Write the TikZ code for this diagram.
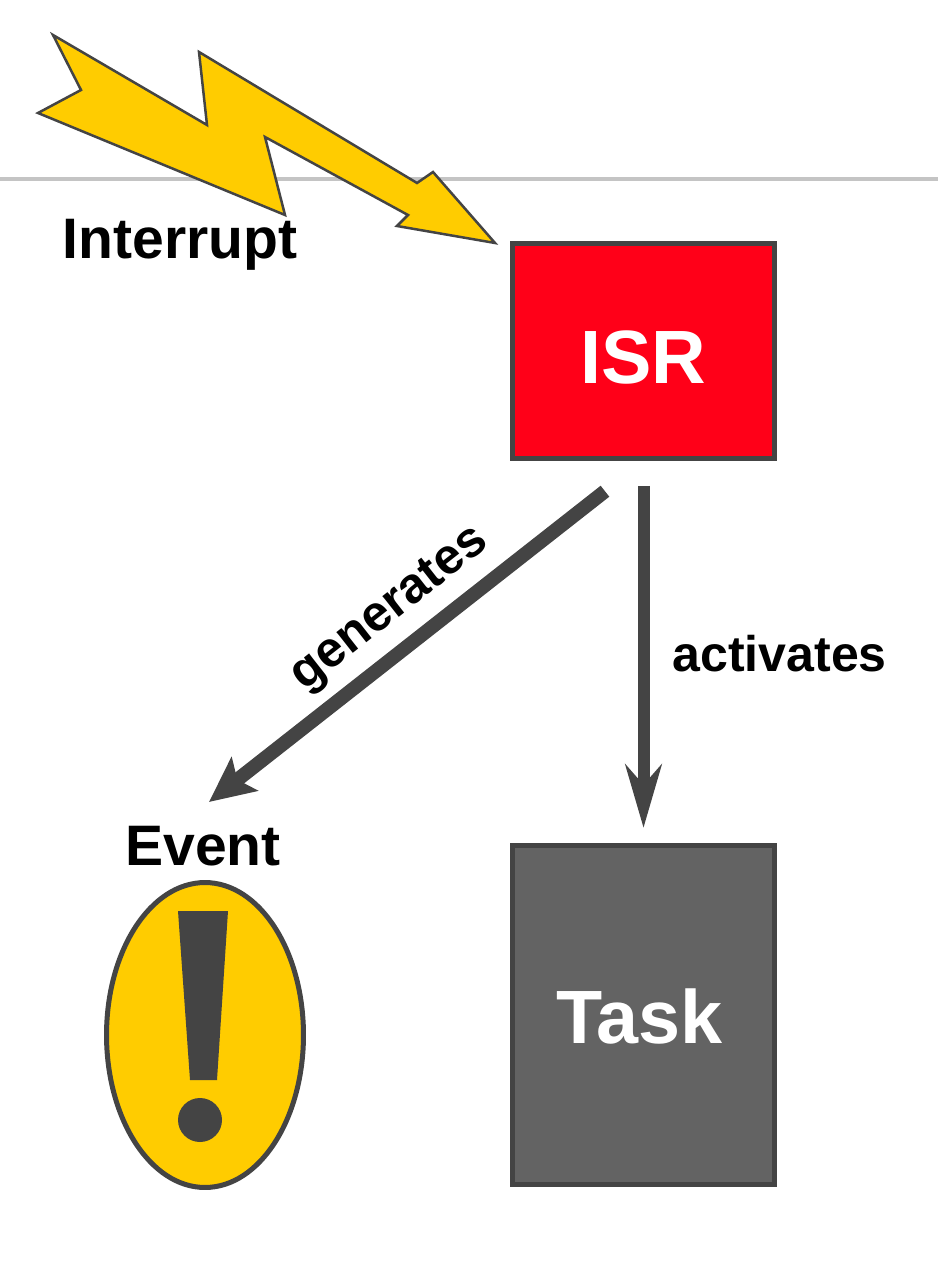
\documentclass[tikz,border=0pt]{standalone}
\usepackage{fontspec}
\setmainfont{Liberation Sans}
\usepackage{xcolor}
\usetikzlibrary{shapes.geometric, arrows.meta, positioning}
\definecolor{boltyellow}{HTML}{FFCC00}
\definecolor{isrred}{HTML}{FF0018}
\definecolor{taskgray}{HTML}{636363}
\definecolor{edgegray}{HTML}{444444}
\definecolor{rulegray}{HTML}{C4C4C4}

\begin{document}
\begin{tikzpicture}[
    x=0.02cm, y=-0.02cm,
    box/.style={rectangle, draw=edgegray, line width=0.1cm, minimum width=5.24cm, text=white, text depth=0pt, font=\bfseries\fontsize{43}{43}\selectfont},
    label/.style={font=\bfseries\fontsize{32.5}{32.5}\selectfont, text=black, inner sep=0pt},
    tag/.style={font=\bfseries\fontsize{28.5}{28.5}\selectfont, text=black, inner sep=0pt},
    line/.style={draw=edgegray, line width=0.24cm}
]
\useasboundingbox (0,0) rectangle (938,1280);

% Horizontal rule
\coordinate (ruleleft) at (0,179);
\coordinate (ruleright) at (938,179);
\draw[rulegray, line width=0.08cm] (ruleleft) -- (ruleright);

% Lightning bolt
\draw[fill=boltyellow, draw=edgegray, line width=0.05cm, line join=miter]
    (53,35) -- (81,90) -- (38,113) -- (285,215) -- (265,137) -- (408,215)
    -- (397,226) -- (495,243) -- (433,172) -- (417,183) -- (199,52) -- (207,125) -- cycle;

% Nodes
\node[label] (interrupt) at (180,245) {Interrupt};
\node[box, fill=isrred, minimum height=4.3cm, text height=1.32cm] (isr) at (643.5,351) {ISR};
\node[box, fill=taskgray, minimum height=6.78cm, text height=1.16cm, below=7.64cm of isr] (task) {Task\rule{0.16cm}{0pt}};
\node[ellipse, draw=edgegray, fill=boltyellow, line width=0.1cm, minimum width=3.94cm, minimum height=6.1cm, inner sep=0pt] (eventmark) at (205,1035) {};
\node[label, above=0.28cm of eventmark, xshift=-0.04cm] (event) {Event};
\coordinate (eventtip) at (209,802);

% Exclamation mark
\fill[edgegray] (178,911) -- (228,911) -- (217,1080) -- (190,1080) -- cycle;
\fill[edgegray] (200,1120) circle (22);

% Paths
\path[line, line width=0.28cm, -{Stealth[length=0.9cm, width=0.84cm, inset=0.18cm]}, shorten <=0.98cm] (isr.south) -- node[tag, sloped, above=0.21cm, pos=0.527] (generates) {generates} (eventtip);
\path[line, -{Stealth[length=1.26cm, width=0.72cm, inset=0.4cm]}, shorten <=0.5cm, shorten >=0.3cm] (isr.south) -- node[tag, right=0.46cm, pos=0.505] (activates) {activates} (task.north);

\end{tikzpicture}
\end{document}
